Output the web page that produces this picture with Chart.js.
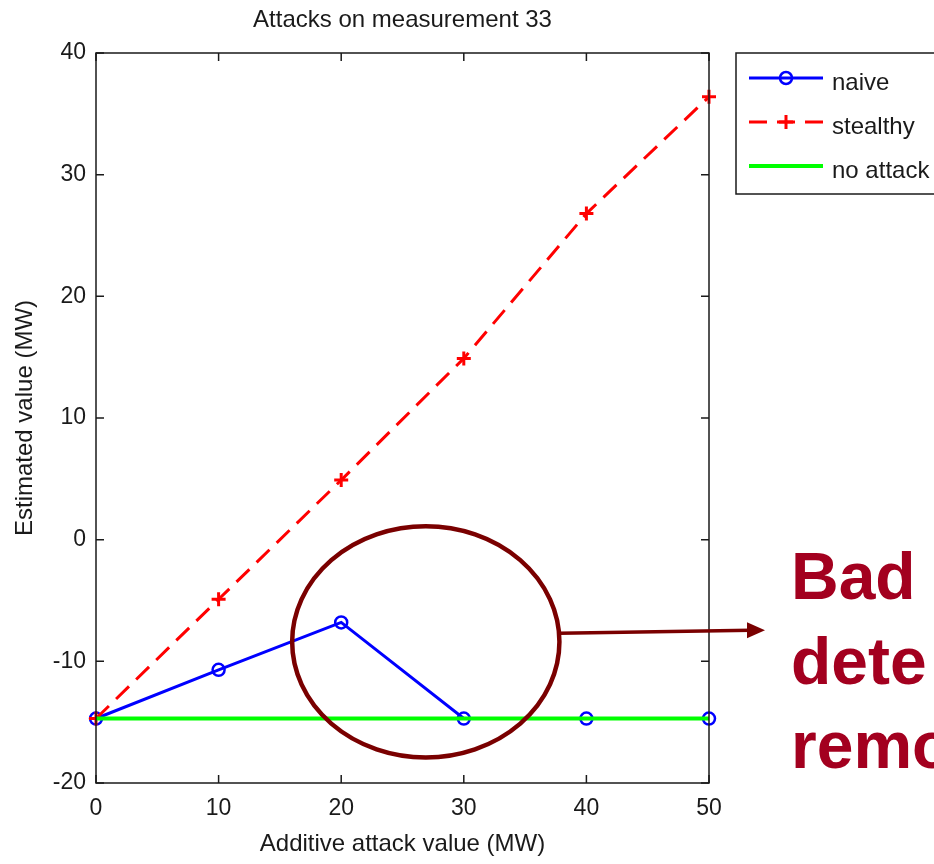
<!DOCTYPE html>
<html lang="en">
<head>
<meta charset="UTF-8">
<title>Attacks on measurement 33</title>
<script src="https://cdn.jsdelivr.net/npm/chart.js"></script>
<style>
    body { margin: 0; background: #fff; }
    #wrap { width: 934px; height: 864px; }
</style>
</head>
<body>
<div id="wrap"><canvas id="chart" width="934" height="864"></canvas></div>
<script>
// values
const attackValues = [0, 10, 20, 30, 40, 50];
const naive = [-14.7, -10.7, -6.8, -14.7, -14.7, -14.7];
const stealthy = [-14.7, -4.9, 4.9, 14.9, 26.8, 36.4];
const noAttack = [-14.7, -14.7, -14.7, -14.7, -14.7, -14.7];
const seriesNames = ['naive', 'stealthy', 'no attack'];
const xTicks = [0, 10, 20, 30, 40, 50];
const yTicks = [-20, -10, 0, 10, 20, 30, 40];
const chartTitle = 'Attacks on measurement 33';
const noteLines = ['Bad', 'dete', 'remo'];

const FONT = '"Liberation Sans", Arial, sans-serif';
const INK = '#1a1a1a';

function pts(ys) {
    return attackValues.map((x, i) => ({ x: x, y: ys[i] }));
}

// box with inward ticks on all four sides, like matlab axes, and the title over the plot
const boxPlugin = {
    id: 'box',
    afterDatasetsDraw(chart) {
        const { ctx, chartArea: a, scales: { x, y } } = chart;
        ctx.save();
        ctx.strokeStyle = INK;
        ctx.lineWidth = 1.5;
        ctx.strokeRect(a.left, a.top, a.right - a.left, a.bottom - a.top);
        ctx.beginPath();
        xTicks.forEach(v => {
            const px = x.getPixelForValue(v);
            ctx.moveTo(px, a.bottom); ctx.lineTo(px, a.bottom - 8);
            ctx.moveTo(px, a.top); ctx.lineTo(px, a.top + 8);
        });
        yTicks.forEach(v => {
            const py = y.getPixelForValue(v);
            ctx.moveTo(a.left, py); ctx.lineTo(a.left + 8, py);
            ctx.moveTo(a.right, py); ctx.lineTo(a.right - 8, py);
        });
        ctx.stroke();

        ctx.fillStyle = INK;
        ctx.font = '24px ' + FONT;
        ctx.textAlign = 'center';
        ctx.textBaseline = 'middle';
        ctx.fillText(chartTitle, (a.left + a.right) / 2, a.top - 33);
        ctx.restore();
    }
};

// boxed legend to the right of the axes
const legendPlugin = {
    id: 'boxLegend',
    afterDraw(chart) {
        const { ctx, chartArea: a } = chart;
        const lx = a.right + 27, ly = a.top;
        ctx.save();
        ctx.strokeStyle = INK;
        ctx.lineWidth = 1.5;
        ctx.strokeRect(lx, ly, 300, 141);
        [0, 1, 2].forEach((di, row) => {
            const ds = chart.data.datasets[di];
            const yy = ly + 25 + row * 44;
            ctx.save();
            ctx.strokeStyle = ds.borderColor;
            ctx.lineWidth = ds.borderWidth;
            ctx.setLineDash(ds.borderDash || []);
            ctx.beginPath();
            ctx.moveTo(lx + 13, yy);
            ctx.lineTo(lx + 87, yy);
            ctx.stroke();
            ctx.setLineDash([]);
            if (ds.pointRadius > 0) {
                ctx.strokeStyle = ds.pointBorderColor;
                ctx.fillStyle = 'rgba(0,0,0,0)';
                ctx.lineWidth = ds.pointBorderWidth;
                Chart.helpers.drawPoint(ctx, {
                    pointStyle: ds.pointStyle,
                    radius: ds.pointRadius,
                    borderWidth: ds.pointBorderWidth,
                    rotation: 0
                }, lx + 50, yy);
            }
            ctx.restore();
            ctx.fillStyle = INK;
            ctx.font = '24px ' + FONT;
            ctx.textBaseline = 'middle';
            ctx.textAlign = 'left';
            ctx.fillText(ds.label, lx + 96, yy + 5);
        });
        ctx.restore();
    }
};

// slide annotation: ellipse round the naive peak, arrow, note text
const notePlugin = {
    id: 'note',
    afterDraw(chart) {
        const { ctx, chartArea: a, scales: { x, y } } = chart;
        const cx = x.getPixelForValue(26.9), cy = y.getPixelForValue(-8.4);
        const rx = x.getPixelForValue(26.9 + 10.9) - cx;
        const ry = y.getPixelForValue(-8.4 - 9.5) - cy;
        ctx.save();
        ctx.strokeStyle = '#7a0000';
        ctx.lineWidth = 4.5;
        ctx.beginPath();
        ctx.ellipse(cx, cy, rx, ry, 0, 0, Math.PI * 2);
        ctx.stroke();

        const sx = cx + rx, sy = y.getPixelForValue(-7.7);
        const ex = a.right + 56, ey = y.getPixelForValue(-7.45);
        ctx.lineWidth = 3.5;
        ctx.beginPath();
        ctx.moveTo(sx, sy);
        ctx.lineTo(ex - 14, ey);
        ctx.stroke();
        ctx.fillStyle = '#7a0000';
        ctx.beginPath();
        ctx.moveTo(ex, ey);
        ctx.lineTo(ex - 18, ey - 8);
        ctx.lineTo(ex - 18, ey + 8);
        ctx.closePath();
        ctx.fill();

        ctx.fillStyle = '#a3001f';
        ctx.font = 'bold 66px ' + FONT;
        ctx.textBaseline = 'alphabetic';
        ctx.textAlign = 'left';
        noteLines.forEach((t, i) => {
            ctx.fillText(t, a.right + 82, 599 + i * 84.5);
        });
        ctx.restore();
    }
};

new Chart(document.getElementById('chart').getContext('2d'), {
    type: 'line',
    data: {
        datasets: [
            {
                label: seriesNames[0],
                data: pts(naive),
                borderColor: '#0000ff',
                borderWidth: 3,
                pointStyle: 'circle',
                pointRadius: 6,
                pointBorderWidth: 2.5,
                pointBorderColor: '#0000ff',
                pointBackgroundColor: 'rgba(0,0,0,0)',
                tension: 0,
                clip: false,
                order: 3
            },
            {
                label: seriesNames[1],
                data: pts(stealthy),
                borderColor: '#ff0000',
                borderWidth: 3,
                borderDash: [18, 10],
                pointStyle: 'cross',
                pointRadius: 7,
                pointBorderWidth: 3,
                pointBorderColor: '#ff0000',
                pointBackgroundColor: '#ff0000',
                tension: 0,
                clip: false,
                order: 2
            },
            {
                label: seriesNames[2],
                data: pts(noAttack),
                borderColor: '#00ff00',
                borderWidth: 4,
                pointRadius: 0,
                tension: 0,
                clip: false,
                order: 1
            }
        ]
    },
    options: {
        responsive: false,
        animation: false,
        layout: { padding: { left: 0, right: 225, top: 53, bottom: 0 } },
        plugins: {
            legend: { display: false },
            tooltip: { enabled: false },
            title: { display: false }
        },
        scales: {
            x: {
                type: 'linear',
                min: 0,
                max: 50,
                afterBuildTicks: s => { s.ticks = xTicks.map(v => ({ value: v })); },
                afterFit: s => { s.height = 81; },
                grid: { display: false, drawTicks: false },
                border: { display: false },
                ticks: { color: INK, padding: 12, maxRotation: 0, font: { family: FONT, size: 23 } },
                title: {
                    display: true,
                    text: 'Additive attack value (MW)',
                    color: INK,
                    font: { family: FONT, size: 24 },
                    padding: { top: 0, bottom: 5 }
                }
            },
            y: {
                type: 'linear',
                min: -20,
                max: 40,
                afterBuildTicks: s => { s.ticks = yTicks.map(v => ({ value: v })); },
                afterFit: s => { s.width = 96; },
                grid: { display: false, drawTicks: false },
                border: { display: false },
                ticks: { color: INK, padding: 10, font: { family: FONT, size: 23 } },
                title: {
                    display: true,
                    text: 'Estimated value (MW)',
                    color: INK,
                    font: { family: FONT, size: 24 },
                    padding: { top: 11, bottom: 0 }
                }
            }
        }
    },
    plugins: [boxPlugin, legendPlugin, notePlugin]
});
</script>
</body>
</html>
